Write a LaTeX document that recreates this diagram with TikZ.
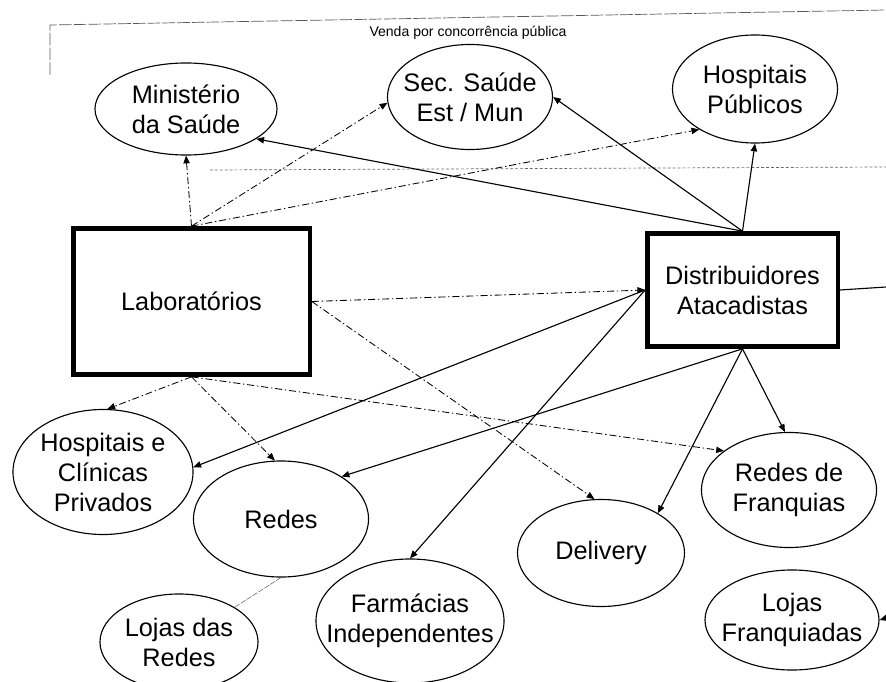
\documentclass[tikz,border=0pt]{standalone}
\usepackage{fontspec}
\setmainfont{Liberation Sans}
\usetikzlibrary{arrows.meta,shapes.geometric}

\tikzset{
  orgbox/.style={draw,line width=2.6pt,inner sep=0pt,align=center,font=\fontsize{18}{21.3}\selectfont},
  entity/.style={ellipse,draw,line width=0.8pt,inner sep=0pt},
  lbl/.style={align=center,inner sep=0pt,font=\fontsize{18}{21.3}\selectfont},
  sale/.style={line width=0.6pt,dash pattern=on 5pt off 2pt on 1pt off 2pt,-{Triangle[length=5.5pt,width=4.5pt]}},
  supply/.style={line width=0.8pt,-{Triangle[length=5.5pt,width=4.5pt]}},
  frame/.style={black!65,line width=0.5pt,dash pattern=on 9pt off 1.5pt}
}

\begin{document}
\begin{tikzpicture}[x=0.025cm,y=-0.025cm]
\clip (0,0) rectangle (886,682);
\fill[white] (0,0) rectangle (886,682);

% area of public tenders
\draw[frame] (50,75) -- (50,25) -- (886,10);
\draw[black!60,line width=0.5pt,dash pattern=on 2pt off 1.5pt] (210,170) -- (886,167);
\node[font=\fontsize{10}{12}\selectfont,inner sep=0pt] (venda) at (468,33) {Venda por concorrência pública};

% boxes
\node[orgbox,minimum width=5.925cm,minimum height=3.675cm] (lab) at (191.5,301.5) {Laboratórios};
\draw[line width=0.6pt] ([shift={(2.8pt,-2.8pt)}]lab.north west) rectangle ([shift={(-2.8pt,2.8pt)}]lab.south east);
\node[orgbox,minimum width=4.775cm,minimum height=2.85cm] (dist) at (742.5,290) {Distribuidores\\Atacadistas};
\draw[line width=0.6pt] ([shift={(2.8pt,-2.8pt)}]dist.north west) rectangle ([shift={(-2.8pt,2.8pt)}]dist.south east);

% customers
\node[entity,minimum width=4.55cm,minimum height=2.3cm,label={[lbl]center:Ministério\\da Saúde}] (min) at (186,109) {};
\node[entity,minimum width=4.125cm,minimum height=2.625cm,label={[lbl]center:Sec. Saúde\\Est / Mun}] (sec) at (470,97) {};
\node[entity,minimum width=4.125cm,minimum height=2.7cm,label={[lbl]center:Hospitais\\Públicos}] (hpub) at (755,89) {};
\node[entity,minimum width=4.5cm,minimum height=3.125cm,label={[lbl]center:Hospitais e\\Clínicas\\Privados}] (hcp) at (103,472) {};
\node[entity,minimum width=4.375cm,minimum height=2.9cm,label={[lbl]center:Redes}] (redes) at (281,519) {};
\node[entity,minimum width=3.95cm,minimum height=2.4cm,label={[lbl]center:Lojas das\\Redes}] (lojr) at (179,642) {};
\node[entity,minimum width=4.7cm,minimum height=3.1cm,label={[lbl]center:Farmácias\\Independentes}] (farm) at (410,621) {};
\node[entity,minimum width=4.175cm,minimum height=2.675cm,label={[lbl]center:Delivery}] (deliv) at (601,553) {};
\node[entity,minimum width=4.375cm,minimum height=2.875cm,label={[lbl]center:Redes de\\Franquias}] (rfranq) at (789,490) {};
\node[entity,minimum width=4.35cm,minimum height=2.5cm,label={[lbl]center:Lojas\\Franquiadas}] (lojf) at (792,620) {};

\coordinate (rout) at (886,287);
\coordinate (rin) at (886,618);

% sales from the laboratories
\draw[sale] (lab.north) -- (min.south);
\draw[sale] (lab.north) -- (sec.184);
\draw[sale] (lab.north) -- (hpub.216);
\draw[sale] (lab.east) -- (dist.west);
\draw[sale] (lab.east) -- (deliv.97);
\draw[sale] (lab.south) -- (hcp.86);
\draw[sale] (lab.south) -- (redes.96);
\draw[sale] (lab.south) -- (rfranq.149);

% sales from the wholesalers
\draw[supply] (dist.north) -- (min.-23);
\draw[supply] (dist.north) -- (sec.east);
\draw[supply] (dist.north) -- (hpub.south);
\draw[supply] (dist.west) -- (hcp.3);
\draw[supply] (dist.west) -- (farm.north);
\draw[supply] (dist.south) -- (redes.35);
\draw[supply] (dist.south) -- (deliv.35);
\draw[supply] (dist.south) -- (rfranq.94);
\draw[line width=0.8pt] (dist.east) -- (rout);
\draw[supply] (rin) -- (lojf.east);

\draw[black!60,line width=0.4pt,dash pattern=on 4pt off 1pt] (redes.south) -- (lojr.32);
\end{tikzpicture}
\end{document}
